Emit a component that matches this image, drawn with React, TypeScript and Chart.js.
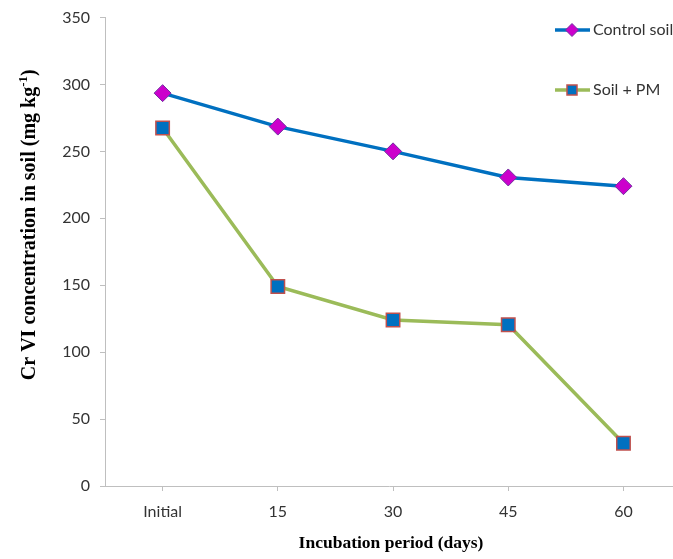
import React, { useEffect, useRef } from "react";
import { Chart, registerables } from "chart.js";

Chart.register(...registerables);

const categories = ["Initial", "15", "30", "45", "60"];
const controlSoil = [293.5, 268.5, 250, 230.5, 224];
const soilPM = [267.5, 149, 124, 120.5, 32];
const seriesNames = ["Control soil", "Soil + PM"];
const yTicks = [0, 50, 100, 150, 200, 250, 300, 350];
const xTitle = "Incubation period (days)";
const yTitleMain = "Cr VI concentration in soil (mg kg";
const yTitleSup = "-1";
const yTitleEnd = ")";

const AXIS_COLOR = "#BFBFBF";
const TEXT_COLOR = "#333333";
const TICK_FONT = { family: "Lato", size: 16 };

const overlayPlugin = {
  id: "overlay",
  afterDraw(chart: any) {
    const ctx = chart.ctx as CanvasRenderingContext2D;
    const { left, right, top, bottom } = chart.chartArea;
    ctx.save();
    ctx.fillStyle = "#000";
    // X title
    ctx.font = 'bold 17.5px "Liberation Serif"';
    ctx.textAlign = "center";
    ctx.textBaseline = "middle";
    ctx.fillText(xTitle, (left + right) / 2 + 2, bottom + 57);

    // Y title (rotated, with superscript)
    const mainFont = 'bold 20px "Liberation Serif"';
    const supFont = 'bold 13px "Liberation Serif"';
    ctx.font = mainFont;
    const wMain = ctx.measureText(yTitleMain).width;
    const wEnd = ctx.measureText(yTitleEnd).width;
    ctx.font = supFont;
    const wSup = ctx.measureText(yTitleSup).width;
    const total = wMain + wSup + wEnd;
    const cy = (top + bottom) / 2 - 27;
    ctx.translate(28, cy);
    ctx.rotate(-Math.PI / 2);
    ctx.textAlign = "left";
    ctx.textBaseline = "alphabetic";
    let x = -total / 2;
    const base = 7;
    ctx.font = mainFont;
    ctx.fillText(yTitleMain, x, base);
    x += wMain;
    ctx.font = supFont;
    ctx.fillText(yTitleSup, x, base - 8);
    x += wSup;
    ctx.font = mainFont;
    ctx.fillText(yTitleEnd, x, base);
    ctx.restore();

    // Legend
    ctx.save();
    chart.data.datasets.forEach((ds: any, i: number) => {
      const ly = top + 12.5 + i * 60;
      const x0 = 555;
      const x1 = 590;
      const mx = 572;
      ctx.strokeStyle = ds.borderColor;
      ctx.lineWidth = ds.borderWidth;
      ctx.beginPath();
      ctx.moveTo(x0, ly);
      ctx.lineTo(x1, ly);
      ctx.stroke();
      ctx.fillStyle = ds.pointBackgroundColor;
      ctx.strokeStyle = ds.pointBorderColor;
      ctx.lineWidth = ds.pointBorderWidth;
      ctx.beginPath();
      if (ds.pointStyle === "rectRot") {
        const s = 6.5;
        ctx.moveTo(mx - s, ly);
        ctx.lineTo(mx, ly + s);
        ctx.lineTo(mx + s, ly);
        ctx.lineTo(mx, ly - s);
        ctx.closePath();
      } else {
        const s = 5;
        ctx.rect(mx - s, ly - s, 2 * s, 2 * s);
      }
      ctx.fill();
      ctx.stroke();
      ctx.fillStyle = TEXT_COLOR;
      ctx.font = '16px "Lato"';
      ctx.textAlign = "left";
      ctx.textBaseline = "middle";
      ctx.fillText(ds.label, 593, ly);
    });
    ctx.restore();
  },
};

export default function App() {
  const canvasRef = useRef<HTMLCanvasElement | null>(null);

  useEffect(() => {
    document.body.style.margin = "0";
    const canvas = canvasRef.current;
    if (!canvas) return;
    const chart = new Chart(canvas, {
      type: "line",
      data: {
        datasets: [
          {
            label: seriesNames[0],
            data: controlSoil.map((v, i) => ({ x: i, y: v })),
            borderColor: "#0070C0",
            borderWidth: 3.5,
            pointStyle: "rectRot",
            pointRadius: 8.5,
            pointHoverRadius: 8.5,
            pointBackgroundColor: "#CC00CC",
            pointBorderColor: "#7030A0",
            pointBorderWidth: 1,
            tension: 0,
          } as any,
          {
            label: seriesNames[1],
            data: soilPM.map((v, i) => ({ x: i, y: v })),
            borderColor: "#9BBB59",
            borderWidth: 3.5,
            pointStyle: "rect",
            pointRadius: 9.5,
            pointHoverRadius: 9.5,
            pointBackgroundColor: "#0070C0",
            pointBorderColor: "#C0504D",
            pointBorderWidth: 1.5,
            tension: 0,
          } as any,
        ],
      },
      options: {
        animation: false,
        responsive: false,
        devicePixelRatio: 1,
        layout: { autoPadding: false, padding: { top: 17.5, right: 0, bottom: 0, left: 0 } },
        plugins: {
          legend: { display: false },
          tooltip: { enabled: false },
          title: { display: false },
        },
        scales: {
          x: {
            type: "linear",
            min: -0.5,
            max: 4.43,
            afterBuildTicks: (axis: any) => {
              axis.ticks = categories.map((_, i) => ({ value: i }));
            },
            afterFit: (axis: any) => {
              axis.height = 73;
              axis.paddingLeft = 0;
              axis.paddingRight = 0;
            },
            ticks: {
              callback: (v: any) => categories[Math.round(Number(v))] ?? "",
              color: TEXT_COLOR,
              font: TICK_FONT,
              padding: 11,
              maxRotation: 0,
              autoSkip: false,
            },
            grid: {
              drawOnChartArea: false,
              drawTicks: true,
              tickLength: 5,
              color: AXIS_COLOR,
            },
            border: { color: AXIS_COLOR, width: 1 },
          },
          y: {
            type: "linear",
            min: 0,
            max: 350,
            afterBuildTicks: (axis: any) => {
              axis.ticks = yTicks.map((v) => ({ value: v }));
            },
            afterFit: (axis: any) => {
              axis.width = 105;
              axis.paddingTop = 0;
              axis.paddingBottom = 0;
            },
            ticks: {
              color: TEXT_COLOR,
              font: TICK_FONT,
              padding: 10,
            },
            grid: {
              drawOnChartArea: false,
              drawTicks: true,
              tickLength: 5,
              color: AXIS_COLOR,
            },
            border: { color: AXIS_COLOR, width: 1 },
          },
        },
      },
      plugins: [overlayPlugin],
    });
    return () => chart.destroy();
  }, []);

  return (
    <div style={{ width: 673, height: 559 }}>
      <canvas ref={canvasRef} width={673} height={559} style={{ display: "block" }} />
    </div>
  );
}
